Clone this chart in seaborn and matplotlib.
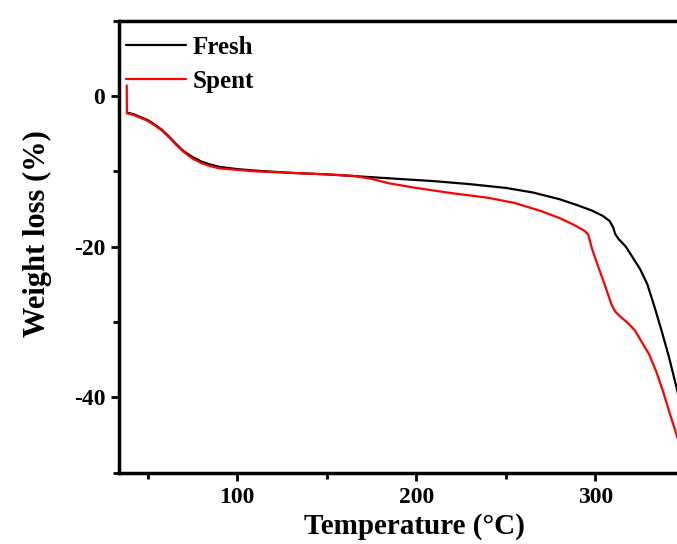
import numpy as np
import pandas as pd
import matplotlib.pyplot as plt
from matplotlib.ticker import MultipleLocator
import seaborn as sns

# TGA curves
fresh_temp = [38.4, 42, 46, 50, 54, 58, 62, 66, 70, 75, 80, 85, 90, 100, 110, 130, 150, 170,
              190, 210, 230, 250, 265, 280, 290, 298, 304, 308, 310, 311, 313, 317, 321, 325,
              329, 333, 337, 341, 345.5, 350]
fresh_loss = [-2.2, -2.4, -2.8, -3.2, -3.8, -4.5, -5.4, -6.4, -7.3, -8.1, -8.7, -9.1, -9.4,
              -9.7, -9.9, -10.2, -10.4, -10.7, -11.0, -11.3, -11.7, -12.2, -12.8, -13.7, -14.5,
              -15.2, -15.9, -16.6, -17.5, -18.3, -19.0, -20.0, -21.5, -23.0, -25.0, -28.0,
              -31.2, -34.6, -38.9, -43.5]

spent_temp = [38.3, 38.4, 42, 46, 50, 54, 58, 62, 66, 70, 75, 80, 85, 90, 100, 110, 130, 150,
              165, 175, 185, 200, 220, 240, 255, 270, 280, 288, 294, 296, 298, 300, 303, 306,
              309, 311, 314, 318, 322, 326, 330, 334, 338, 342, 345.5, 350]
spent_loss = [1.4, -2.3, -2.5, -2.9, -3.3, -3.9, -4.6, -5.5, -6.5, -7.4, -8.3, -8.9, -9.3,
              -9.6, -9.8, -10.0, -10.2, -10.4, -10.6, -11.0, -11.6, -12.2, -12.9, -13.5, -14.2,
              -15.3, -16.2, -17.1, -17.9, -18.4, -20.2, -21.6, -23.6, -25.6, -27.7, -28.6,
              -29.3, -30.1, -31.1, -32.7, -34.3, -36.6, -39.4, -42.5, -45.1, -48.8]

df = pd.concat([
    pd.DataFrame({"T": fresh_temp, "w": fresh_loss, "sample": "Fresh"}),
    pd.DataFrame({"T": spent_temp, "w": spent_loss, "sample": "Spent"}),
], ignore_index=True)

sns.set_style("ticks")
plt.rcParams["font.family"] = ["Liberation Serif", "DejaVu Serif"]
plt.rcParams["axes.unicode_minus"] = False
plt.rcParams["axes.edgecolor"] = "black"
plt.rcParams["xtick.color"] = "black"
plt.rcParams["ytick.color"] = "black"
plt.rcParams["text.color"] = "black"
plt.rcParams["axes.labelcolor"] = "black"

fig = plt.figure(figsize=(6.77, 5.44), dpi=100)
ax = fig.add_axes([0.1758, 0.1310, 0.836, 0.831])

sns.lineplot(data=df, x="T", y="w", hue="sample", palette={"Fresh": "black", "Spent": "red"},
             estimator=None, sort=False, linewidth=1.6, ax=ax)

ax.set_xlim(34, 350)
ax.set_ylim(-50, 10)
ax.xaxis.set_major_locator(MultipleLocator(100))
ax.xaxis.set_minor_locator(MultipleLocator(50))
ax.yaxis.set_minor_locator(MultipleLocator(10))
ax.set_yticks([0, -20, -40])

for s in ax.spines.values():
    s.set_linewidth(2.5)
ax.tick_params(which="major", length=6, width=2, labelsize=17, direction="out", pad=4)
ax.tick_params(which="minor", length=4, width=2, direction="out")
for lab in ax.get_xticklabels() + ax.get_yticklabels():
    lab.set_fontweight("bold")

ax.set_xlabel("Temperature (°C)", fontsize=21, fontweight="bold")
ax.set_ylabel("Weight loss (%)", fontsize=22, fontweight="bold")
ax.xaxis.set_label_coords(0.522, -0.088)
ax.yaxis.set_label_coords(-0.118, 0.53)

ax.legend(title=None, loc="upper left", bbox_to_anchor=(-0.014, 1.0), frameon=False,
          prop={"size": 18, "weight": "bold"}, handlelength=2.4, handletextpad=0.25,
          borderaxespad=0.3, borderpad=0.3, labelspacing=0.45)

fig.savefig("out.png", dpi=100)
